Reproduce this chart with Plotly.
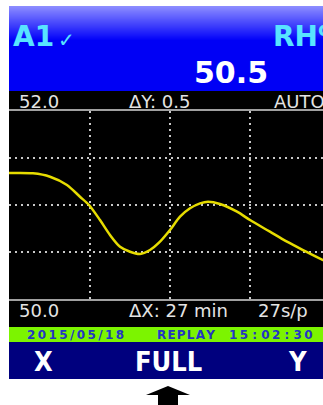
import plotly.graph_objects as go

W, H = 323, 405

# ---- data ----
time_min = [0, 2.01, 3.44, 4.86, 5.95, 6.71, 7.63, 8.47, 9.31, 10.15, 10.98, 11.82, 12.66,
            13.50, 14.34, 15.18, 16.02, 16.69, 17.69, 19.12, 20.21, 21.88, 23.31, 24.65,
            26.33, 27.0]
rh_values = [51.340, 51.337, 51.301, 51.213, 51.088, 51.000, 50.840, 50.681, 50.556, 50.503,
             50.479, 50.521, 50.610, 50.734, 50.876, 50.965, 51.018, 51.035, 51.011, 50.929,
             50.840, 50.716, 50.610, 50.521, 50.415, 50.385]
x_grid = [6.75, 13.5, 20.25]
y_grid = [50.5, 51.0, 51.5]
y_min, y_max = 50.0, 52.0
x_visible_max = 26.33

channel = "A1"
unit = "RH%"
reading = "50.5"
top_labels = ["52.0", "ΔY: 0.5", "AUTO"]
bottom_labels = ["50.0", "ΔX: 27 min", "27s/p"]
status_labels = ["2015/05/18", "REPLAY", "15:02:30"]
soft_keys = ["X", "FULL", "Y"]


def px(x):
    return x / W


def py(y):
    return 1 - y / H


fig = go.Figure()
fig.add_trace(go.Scatter(
    x=time_min, y=rh_values, mode="lines",
    line=dict(color="#e6dc00", width=2.5, shape="spline", smoothing=0.8),
    hoverinfo="skip", showlegend=False, cliponaxis=True,
))

shapes = []


def band(y0, y1, color):
    shapes.append(dict(type="rect", xref="paper", yref="paper", x0=px(9), x1=1,
                       y0=max(0, py(y1)), y1=min(1, py(y0)), fillcolor=color,
                       line=dict(width=0), layer="below"))


# header gradient
top, grad_end, header_bottom = 6, 40, 91
c0 = (140, 140, 255)
c1 = (0, 0, 250)
for i in range(top, grad_end):
    f = (i - top) / (grad_end - top)
    c = tuple(int(round(c0[k] + (c1[k] - c0[k]) * f)) for k in range(3))
    band(i, i + 1.2, "rgb(%d,%d,%d)" % c)
band(grad_end, header_bottom, "rgb(0,0,245)")
band(header_bottom, 111, "black")
band(299, 327, "black")
band(327, 342, "#7cf400")
band(342, 379, "#00007e")

# arrow below the soft keys
pts = [(168, 386), (190, 395), (178, 395), (178, 405), (158, 405), (158, 395), (146, 395)]
path = "M " + " L ".join("%.5f,%.5f" % (px(a), py(b)) for a, b in pts) + " Z"
shapes.append(dict(type="path", xref="paper", yref="paper", path=path,
                   fillcolor="black", line=dict(width=0)))

ann = []


def text(s, x, y, size, color, family="DejaVu Sans", bold=False, anchor="left"):
    t = "<b>%s</b>" % s if bold else s
    ann.append(dict(text=t, x=px(x), y=py(y), xref="paper", yref="paper",
                    xanchor=anchor, yanchor="middle", showarrow=False,
                    font=dict(size=size, color=color, family=family)))


cyan = "#58e4ff"
text(channel, 11, 36, 28, cyan, bold=True)
text("✓", 56, 40, 20, cyan)
text(unit, 271, 36, 28, cyan, bold=True)
text(reading, 192, 72, 30, "white", bold=True)

band_col = "#e4e4e4"
for s, x in zip(top_labels, [17, 127, 272]):
    text(s, x, 102, 18, band_col)
for s, x in zip(bottom_labels, [17, 127, 256]):
    text(s, x, 310, 18, band_col)

status_col = "#2436c4"
t3 = status_labels[2].split(":")
status_text = ["\u2009".join(status_labels[0]),
               "\u200a".join(status_labels[1]),
               " : ".join("\u2009".join(p) for p in t3)]
for s, x in zip(status_text, [25, 155, 227]):
    text(s, x, 335, 12, status_col, bold=True)

key_font = "DejaVu Sans Condensed, DejaVu Sans"
for s, x in zip(soft_keys, [43.5, 168, 297.5]):
    text(s, x, 361, 27, "white", family=key_font, bold=True, anchor="center")

fig.update_layout(
    width=W, height=H,
    margin=dict(l=0, r=0, t=0, b=0),
    paper_bgcolor="white", plot_bgcolor="black",
    shapes=shapes, annotations=ann,
    xaxis=dict(domain=[px(9), 1], range=[0, x_visible_max], tickvals=x_grid,
               showticklabels=False, ticks="", showgrid=True, gridcolor="#c8c8c8",
               gridwidth=2, griddash="2px,4px", zeroline=False,
               showline=True, mirror=True, linecolor="#a0a0a0", linewidth=2),
    yaxis=dict(domain=[py(299), py(111)], range=[y_min, y_max], tickvals=y_grid,
               showticklabels=False, ticks="", showgrid=True, gridcolor="#c8c8c8",
               gridwidth=2, griddash="2px,4px", zeroline=False, showline=False),
    showlegend=False,
)

fig.write_html(
    "out.html",
    config={"displayModeBar": False},
    post_script="document.body.style.margin='0';"
                "document.documentElement.style.overflow='hidden';",
)
